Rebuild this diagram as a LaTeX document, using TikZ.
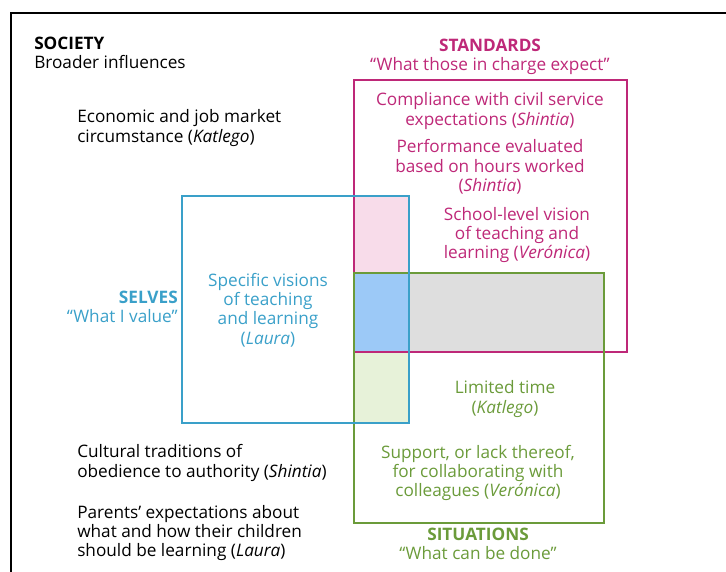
\documentclass[tikz,border=0pt]{standalone}
\usepackage{fontspec}
\setmainfont{Open Sans}
\usepackage{tikz}

\definecolor{stdmag}{RGB}{190,40,120}
\definecolor{selfblue}{RGB}{58,160,201}
\definecolor{sitgreen}{RGB}{107,155,58}
\definecolor{pinkfill}{RGB}{248,220,234}
\definecolor{bluefill}{RGB}{156,201,247}
\definecolor{grayfill}{RGB}{222,222,222}
\definecolor{greenfill}{RGB}{231,242,217}

\begin{document}
\begin{tikzpicture}[x = 0.75pt, y = -0.75pt]
\tikzstyle{txt} = [inner sep = 0pt, font = \fontsize{12.9}{14.6}\selectfont]
\tikzstyle{ctxt} = [txt, align = center]
\tikzstyle{ltxt} = [txt, align = left, anchor = west]
\tikzstyle{rtxt} = [txt, align = right, anchor = east]
\tikzstyle{box} = [line width = 1.5pt]
\useasboundingbox (0, 0) rectangle (726, 572);
% frame
\draw[line width = 1.2pt] (11, 575) -- (11, 13) -- (730, 13);
% overlaps
\fill[pinkfill] (354, 196) rectangle (409, 273);
\fill[bluefill] (354, 273) rectangle (409, 352);
\fill[grayfill] (409, 273) rectangle (604, 352);
\fill[greenfill] (354, 352) rectangle (409, 423);
% boxes
\draw[box, stdmag] (354, 80) rectangle (627, 352);
\draw[box, sitgreen] (354, 273) rectangle (604, 523);
\draw[box, selfblue] (182, 196) rectangle (409, 423);
% society
\node[ltxt] (society) at (34, 53) {\textbf{SOCIETY}\\Broader influences};
\node[ltxt] (econ) at (77, 128) {Economic and job market\\circumstance (\textit{Katlego})};
\node[ltxt] (culture) at (77, 463) {Cultural traditions of\\obedience to authority (\textit{Shintia})};
\node[ltxt] (parents) at (77, 533) {Parents’ expectations about\\what and how their children\\should be learning (\textit{Laura})};
% standards
\node[ctxt, stdmag] (standards) at (490, 57) {\textbf{STANDARDS}\\“What those in charge expect”};
\node[ctxt, stdmag] (comply) at (490, 111) {Compliance with civil service\\expectations (\textit{Shintia})};
\node[ctxt, stdmag] (perform) at (490, 167) {Performance evaluated\\based on hours worked\\(\textit{Shintia})};
\node[ctxt, stdmag] (school) at (517, 235) {School-level vision\\of teaching and\\learning (\textit{Verónica})};
% selves
\node[rtxt, selfblue] (selves) at (178, 307) {\textbf{SELVES}\\“What I value”};
\node[ctxt, selfblue] (visions) at (268, 310) {Specific visions\\of teaching\\and learning\\(\textit{Laura})};
% situations
\node[ctxt, sitgreen] (limited) at (505, 399) {Limited time\\(\textit{Katlego})};
\node[ctxt, sitgreen] (support) at (478, 473) {Support, or lack thereof,\\for collaborating with\\colleagues (\textit{Verónica})};
\node[ctxt, sitgreen] (situations) at (478, 544) {\textbf{SITUATIONS}\\“What can be done”};
\end{tikzpicture}
\end{document}
